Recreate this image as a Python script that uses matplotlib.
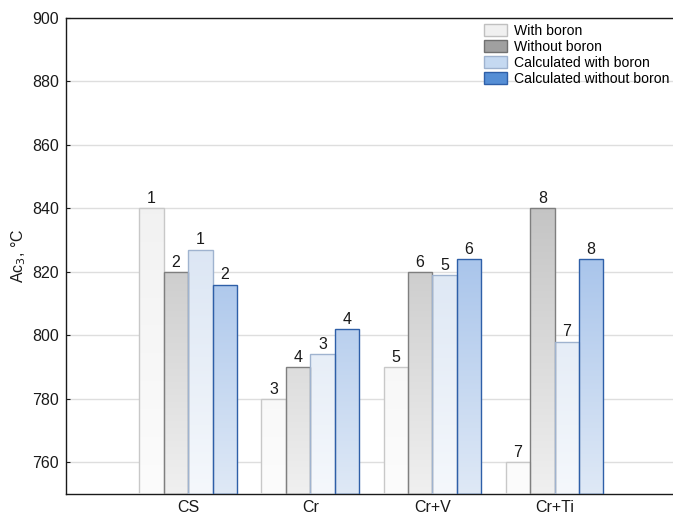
import numpy as np
import matplotlib
matplotlib.use("Agg")
import matplotlib.pyplot as plt
from matplotlib.colors import LinearSegmentedColormap
from matplotlib.patches import Patch

plt.rcParams['font.family'] = ['Liberation Sans', 'DejaVu Sans']

categories = ["CS", "Cr", "Cr+V", "Cr+Ti"]
series_names = ["With boron", "Without boron", "Calculated with boron", "Calculated without boron"]
with_boron = [840, 780, 790, 760]
without_boron = [820, 790, 820, 840]
calc_with_boron = [827, 794, 819, 798]
calc_without_boron = [816, 802, 824, 824]
label_odd = ["1", "3", "5", "7"]
label_even = ["2", "4", "6", "8"]

series = [with_boron, without_boron, calc_with_boron, calc_without_boron]
series_labels = [label_odd, label_even, label_odd, label_even]

# styles: (gradient top at ymax, gradient bottom at ymin), edge, legend face
grad = [("#ebebeb", "#fcfcfc"), ("#a7a7a7", "#f0f0f0"),
        ("#c4d5ec", "#f5f8fc"), ("#72a0e0", "#dfe9f6")]
edges = ["#c8c8c8", "#7f7f7f", "#9fb3cf", "#2e5fa8"]
legend_faces = ["#f0f0f0", "#a0a0a0", "#c5d9f1", "#558ed5"]
legend_edges = ["#c0c0c0", "#707070", "#9fb3cf", "#2e5fa8"]

ymin, ymax = 750, 900

fig = plt.figure(figsize=(6.73, 5.17), dpi=100)
ax = fig.add_axes([66/673, 23/517, 1 - 66/673, (494-18)/517])

x = np.arange(len(categories))
width = 0.2
gradient = np.linspace(0, 1, 256).reshape(-1, 1)

for i, (vals, labs) in enumerate(zip(series, series_labels)):
    offs = (i - 1.5) * width
    cmap = LinearSegmentedColormap.from_list(f"g{i}", [grad[i][1], grad[i][0]])
    bars = ax.bar(x + offs, np.array(vals) - ymin, width, bottom=ymin,
                  facecolor="none", edgecolor=edges[i], linewidth=1.0, zorder=3)
    for b, v, lab in zip(bars, vals, labs):
        x0 = b.get_x()
        im = ax.imshow(gradient, extent=[x0, x0 + width, ymin, ymax], origin="lower",
                       aspect="auto", cmap=cmap, zorder=2, interpolation="bilinear")
        im.set_clip_path(b)
        ax.text(x0 + width / 2, v + 0.7, lab, ha="center", va="bottom", fontsize=11.5,
                color="#1a1a1a", zorder=4)

ax.set_xlim(-1, 3.97)
ax.set_ylim(ymin, ymax)
ax.set_yticks(np.arange(760, 901, 20))
ax.set_xticks(x)
ax.set_xticklabels(categories)
ax.tick_params(axis="y", direction="in", length=3, labelsize=11.5, pad=5, colors="#1a1a1a")
ax.tick_params(axis="x", length=0, labelsize=11.5, pad=4, colors="#1a1a1a")
ax.yaxis.grid(True, color="#dedede", linewidth=1.0, zorder=0)
ax.set_axisbelow(True)
ax.spines["right"].set_visible(False)
for s in ["left", "bottom", "top"]:
    ax.spines[s].set_color("#1a1a1a")
    ax.spines[s].set_linewidth(1.0)
ax.set_ylabel("Ac$_3$, °C", fontsize=11.5, color="#1a1a1a", labelpad=3)

handles = [Patch(facecolor=legend_faces[i], edgecolor=legend_edges[i], linewidth=1.0)
           for i in range(4)]
fig.legend(handles, series_names, loc="upper left",
           bbox_to_anchor=(484/673, 1 - 24/517), bbox_transform=fig.transFigure,
           frameon=False, fontsize=10.1, handlelength=1.65, handleheight=0.98,
           labelspacing=0.14, handletextpad=0.5, borderpad=0, borderaxespad=0)

fig.savefig("out.png", dpi=100)
